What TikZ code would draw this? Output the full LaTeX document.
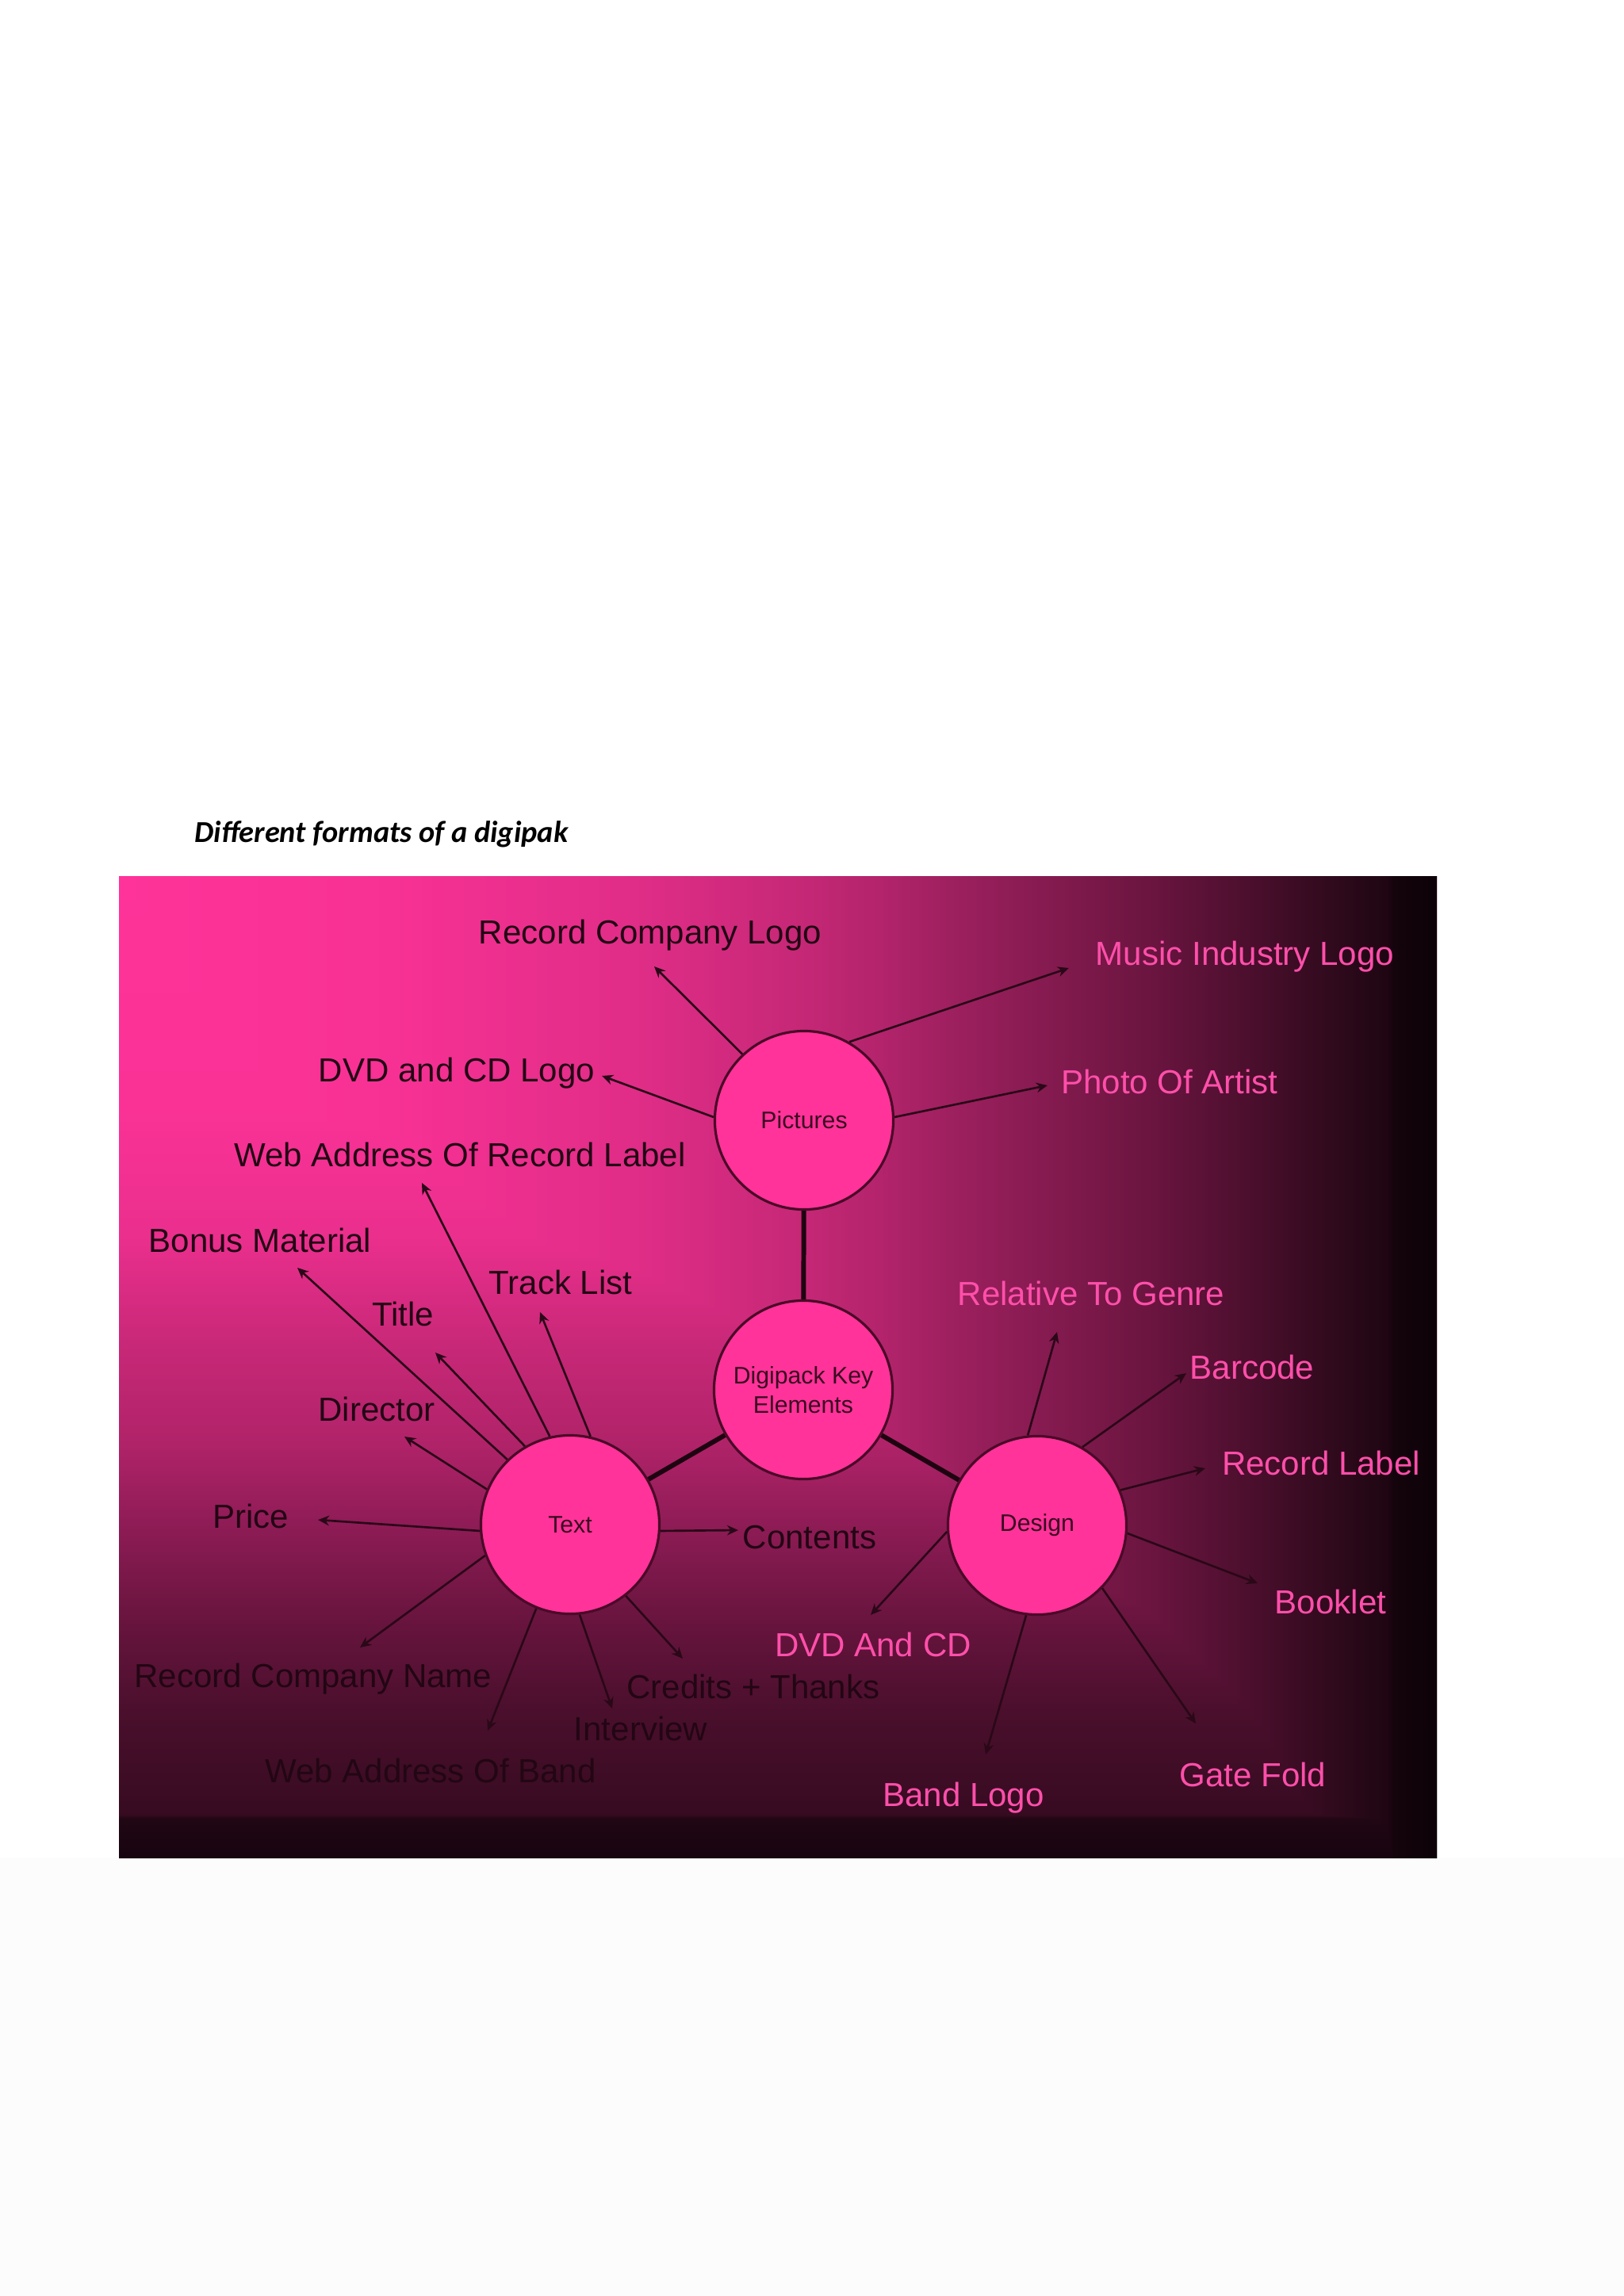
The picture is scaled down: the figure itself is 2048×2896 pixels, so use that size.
\documentclass[tikz,border=0pt]{standalone}
\usepackage{fontspec}
\newfontfamily\labfont{Liberation Sans}
\newfontfamily\ttlfont{Carlito}
\usetikzlibrary{arrows.meta}
\definecolor{hp}{HTML}{FF3399}
\definecolor{outl}{HTML}{4A0A28}
\definecolor{dtext}{HTML}{220614}
\definecolor{ptext}{HTML}{FF4FAA}
\definecolor{arrc}{HTML}{2A0818}
\definecolor{linkc}{HTML}{1E0410}
\definecolor{circtext}{HTML}{3A0A22}
% horizontal profile (top row)
\definecolor{h0}{HTML}{FF3399}
\definecolor{h1}{HTML}{F73194}
\definecolor{h2}{HTML}{E02D87}
\definecolor{h3}{HTML}{C72877}
\definecolor{h4}{HTML}{B5246D}
\definecolor{h5}{HTML}{991F5C}
\definecolor{h6}{HTML}{6B1540}
\definecolor{h7}{HTML}{4D0F2E}
\definecolor{h8}{HTML}{2B091A}
\definecolor{h9}{HTML}{1F0612}
\definecolor{h10}{HTML}{14040C}
\definecolor{h11}{HTML}{0D0208}
% vertical profile (left column)
\definecolor{v0}{HTML}{FF3399}
\definecolor{v1}{HTML}{FA3296}
\definecolor{v2}{HTML}{EA2F8D}
\definecolor{v3}{HTML}{C72877}
\definecolor{v4}{HTML}{B02369}
\definecolor{v5}{HTML}{8F1C56}
\definecolor{v6}{HTML}{66143D}
\definecolor{v7}{HTML}{4A0F2C}
\definecolor{v8}{HTML}{380B22}
\definecolor{v9}{HTML}{360B20}
\definecolor{v10}{HTML}{210714}
\definecolor{v11}{HTML}{170410}
\pgfdeclarehorizontalshading{bgh}{100bp}{color(0bp)=(h0); color(25bp)=(h0); color(35.5bp)=(h1); color(44.6bp)=(h2); color(50.6bp)=(h3); color(53.6bp)=(h4); color(57.2bp)=(h5); color(64.1bp)=(h6); color(67.7bp)=(h7); color(71.6bp)=(h8); color(73.1bp)=(h9); color(73.4bp)=(h10); color(75bp)=(h11); color(100bp)=(h11)}
\pgfdeclareverticalshading{bgv}{100bp}{color(0bp)=(v11); color(25bp)=(v11); color(27bp)=(v10); color(27.2bp)=(v9); color(27.5bp)=(v8); color(32.4bp)=(v7); color(36.8bp)=(v6); color(42.1bp)=(v5); color(46.1bp)=(v4); color(51bp)=(v3); color(56.6bp)=(v2); color(63.1bp)=(v1); color(75bp)=(v0); color(100bp)=(v0)}
\tikzset{
  circ/.style={circle, draw=outl, line width=0.9pt, fill=hp, minimum size=2.25cm, inner sep=0pt, text=circtext, align=center, font=\labfont\fontsize{8.6}{10.5}\selectfont},
  dlab/.style={anchor=base, inner sep=0pt, text=dtext, font=\labfont\fontsize{11.95}{14}\selectfont},
  plab/.style={dlab, text=ptext},
  arr/.style={draw=arrc, line width=0.75pt, -{Stealth[length=4pt,width=3.6pt]}},
  link/.style={draw=linkc, line width=1.7pt},
}
\begin{document}
\begin{tikzpicture}[x=0.01cm,y=-0.01cm]
\useasboundingbox (0,0) rectangle (2048,2896);
\fill[white] (0,0) rectangle (2048,2343);
\fill[black!1] (0,2343) rectangle (2048,2896);
% background panel: darker of a horizontal and a vertical gradient
\shade[shading=bgh] (150,1105) rectangle (1812,2343);
\begin{scope}[blend mode=darken]
\shade[shading=bgv] (150,1105) rectangle (1812,2343);
\end{scope}
% title
\node[anchor=base, inner sep=0pt, font=\ttlfont\fontsize{10.9}{13}\selectfont\bfseries\itshape] (title) at (481,1062) {Different formats of a digipak};
% circles
\node[circ] (pic) at (1014,1413) {Pictures};
\node[circ] (dig) at (1013,1753) {Digipack Key\\Elements};
\node[circ] (txt) at (719,1923) {Text};
\node[circ] (des) at (1308,1924) {Design};
% thick links
\draw[link] (pic) -- (dig);
\draw[link] (dig) -- (txt);
\draw[link] (dig) -- (des);
% labels
\node[dlab] (lRCL) at (820,1190) {Record Company Logo};
\node[plab] (lMIL) at (1570,1217) {Music Industry Logo};
\node[dlab] (lDCL) at (576,1364) {DVD and CD Logo};
\node[plab] (lPOA) at (1475,1379) {Photo Of Artist};
\node[dlab] (lWRL) at (580,1471) {Web Address Of Record Label};
\node[dlab] (lBON) at (328,1579) {Bonus Material};
\node[dlab] (lTRK) at (707,1632) {Track List};
\node[dlab] (lTTL) at (508,1672) {Title};
\node[plab] (lRTG) at (1376,1646) {Relative To Genre};
\node[plab] (lBAR) at (1579,1739) {Barcode};
\node[dlab] (lDIR) at (475,1792) {Director};
\node[plab] (lREC) at (1666,1860) {Record Label};
\node[dlab] (lPRI) at (316,1927) {Price};
\node[dlab] (lCON) at (1021,1953) {Contents};
\node[plab] (lBKL) at (1678,2035) {Booklet};
\node[plab] (lDAC) at (1101,2089) {DVD And CD};
\node[dlab] (lRCN) at (395,2128) {Record Company Name};
\node[dlab] (lCRT) at (950,2142) {Credits + Thanks};
\node[dlab] (lINT) at (808,2195) {Interview};
\node[dlab] (lWAB) at (543,2248) {Web Address Of Band};
\node[plab] (lBND) at (1215,2278) {Band Logo};
\node[plab] (lGTF) at (1580,2253) {Gate Fold};
% arrow tips
\coordinate (tRCL) at (825,1219);
\coordinate (tMIL) at (1348,1221);
\coordinate (tDCL) at (759,1357);
\coordinate (tPOA) at (1321,1369);
\coordinate (tWRL) at (532,1492);
\coordinate (tBON) at (375,1599);
\coordinate (tTTL) at (549,1706);
\coordinate (tTRK) at (681,1655);
\coordinate (tDIR) at (510,1812);
\coordinate (tPRI) at (401,1917);
\coordinate (tCON) at (931,1930);
\coordinate (tRCN) at (454,2078);
\coordinate (tWAB) at (615,2183);
\coordinate (tINT) at (772,2155);
\coordinate (tCRT) at (861,2092);
\coordinate (tRTG) at (1333,1680);
\coordinate (tBAR) at (1496,1732);
\coordinate (tREC) at (1520,1852);
\coordinate (tBKL) at (1586,1997);
\coordinate (tDAC) at (1098,2037);
\coordinate (tBND) at (1243,2213);
\coordinate (tGTF) at (1508,2174);
% arrows from Pictures
\draw[arr] (pic.133) -- (tRCL);
\draw[arr] (pic.60) -- (tMIL);
\draw[arr] (pic.178) -- (tDCL);
\draw[arr] (pic.2) -- (tPOA);
% arrows from Text
\draw[arr] (txt.103) -- (tWRL);
\draw[arr] (txt.134) -- (tBON);
\draw[arr] (txt.120) -- (tTTL);
\draw[arr] (txt.77) -- (tTRK);
\draw[arr] (txt.157) -- (tDIR);
\draw[arr] (txt.184) -- (tPRI);
\draw[arr] (txt.-4) -- (tCON);
\draw[arr] (txt.200) -- (tRCN);
\draw[arr] (txt.248) -- (tWAB);
\draw[arr] (txt.276) -- (tINT);
\draw[arr] (txt.308) -- (tCRT);
% arrows from Design
\draw[arr] (des.96) -- (tRTG);
\draw[arr] (des.60) -- (tBAR);
\draw[arr] (des.23) -- (tREC);
\draw[arr] (des.-5) -- (tBKL);
\draw[arr] (des.184) -- (tDAC);
\draw[arr] (des.263) -- (tBND);
\draw[arr] (des.316) -- (tGTF);
\end{tikzpicture}
\end{document}
